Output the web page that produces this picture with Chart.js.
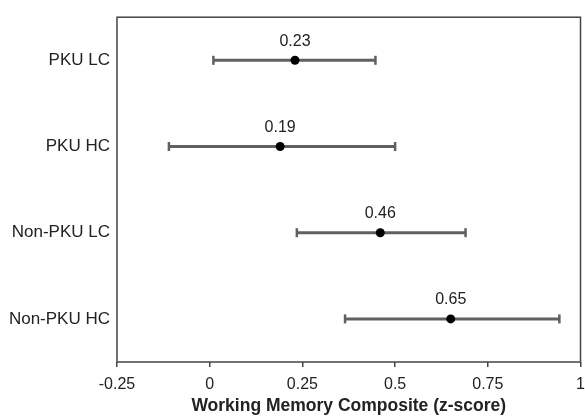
<!DOCTYPE html>
<html>
<head>
<meta charset="utf-8">
<script src="https://cdn.jsdelivr.net/npm/chart.js@4/dist/chart.umd.min.js"></script>
<style>
  html, body { margin: 0; padding: 0; background: #fff; }
  #wrap { width: 585px; height: 417px; }
</style>
</head>
<body>
<div id="wrap"><canvas id="grafico1"></canvas></div>
<script>
// datos
const groups = ['PKU LC', 'PKU HC', 'Non-PKU LC', 'Non-PKU HC'];
const means = [0.23, 0.19, 0.46, 0.65];
const lower = [0.01, -0.11, 0.235, 0.365];
const upper = [0.447, 0.50, 0.69, 0.943];
const xTicks = [-0.25, 0, 0.25, 0.5, 0.75, 1];

const fontFam = '"Liberation Sans", Arial, sans-serif';
const axisColor = '#444';

// barras de error, etiquetas y marco
const errorBars = {
    id: 'errorBars',
    beforeDatasetsDraw(chart) {
        const { ctx, scales: { x, y } } = chart;
        ctx.save();
        ctx.strokeStyle = '#606060';
        groups.forEach((g, i) => {
            const py = y.getPixelForValue(i);
            const x0 = x.getPixelForValue(lower[i]);
            const x1 = x.getPixelForValue(upper[i]);
            ctx.lineWidth = 3;
            ctx.beginPath();
            ctx.moveTo(x0, py);
            ctx.lineTo(x1, py);
            ctx.stroke();
            ctx.lineWidth = 2.5;
            [x0, x1].forEach(px => {
                ctx.beginPath();
                ctx.moveTo(px, py - 4.5);
                ctx.lineTo(px, py + 4.5);
                ctx.stroke();
            });
        });
        ctx.restore();
    },
    afterDatasetsDraw(chart) {
        const { ctx, scales: { x, y } } = chart;
        ctx.save();
        ctx.fillStyle = '#222';
        ctx.font = '16px ' + fontFam;
        ctx.textAlign = 'center';
        ctx.textBaseline = 'middle';
        groups.forEach((g, i) => {
            ctx.fillText(means[i].toFixed(2), x.getPixelForValue(means[i]), y.getPixelForValue(i) - 19);
        });
        ctx.restore();
    },
    afterDraw(chart) {
        const { ctx, chartArea: a } = chart;
        ctx.save();
        ctx.strokeStyle = axisColor;
        ctx.lineWidth = 1.5;
        ctx.strokeRect(a.left, a.top, a.right - a.left, a.bottom - a.top);
        ctx.restore();
    }
};

new Chart(document.getElementById('grafico1').getContext('2d'), {
    type: 'scatter',
    data: {
        datasets: [{
            data: groups.map((g, i) => ({ x: means[i], y: g })),
            backgroundColor: '#000',
            borderWidth: 0,
            pointRadius: 4.5
        }]
    },
    options: {
        responsive: true,
        maintainAspectRatio: false,
        animation: false,
        layout: { padding: { top: 15, left: 0, right: 0, bottom: 0 } },
        plugins: {
            legend: { display: false },
            tooltip: { enabled: false }
        },
        scales: {
            x: {
                type: 'linear',
                min: -0.25,
                max: 1,
                afterBuildTicks: s => { s.ticks = xTicks.map(v => ({ value: v })); },
                afterFit: s => { s.paddingRight = 2; s.paddingLeft = 0; s.height = 55; },
                ticks: {
                    color: '#222',
                    font: { family: fontFam, size: 16 },
                    padding: 8,
                    callback: v => String(+v.toFixed(2))
                },
                grid: {
                    display: true,
                    drawOnChartArea: false,
                    drawTicks: true,
                    tickLength: 5,
                    color: axisColor,
                    lineWidth: 1.5
                },
                border: { display: false },
                title: {
                    display: true,
                    text: 'Working Memory Composite (z-score)',
                    color: '#222',
                    font: { family: fontFam, size: 17.5, weight: 'bold' },
                    padding: { top: 3, bottom: 0 }
                }
            },
            y: {
                type: 'category',
                labels: groups,
                offset: true,
                afterFit: s => { s.width = 117; },
                ticks: {
                    color: '#222',
                    font: { family: fontFam, size: 17 },
                    padding: 7
                },
                grid: { display: false, drawTicks: false },
                border: { display: false }
            }
        }
    },
    plugins: [errorBars]
});
</script>
</body>
</html>
